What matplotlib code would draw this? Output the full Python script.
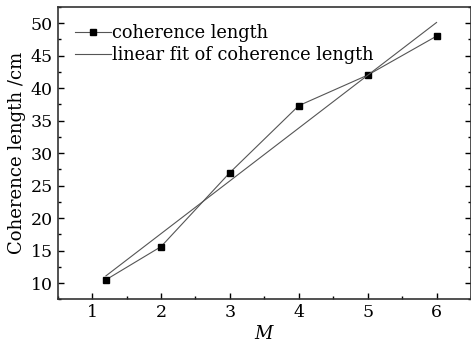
import matplotlib
matplotlib.use("Agg")
import matplotlib.pyplot as plt
from matplotlib.ticker import MultipleLocator

M = [1.2, 2, 3, 4, 5, 6]
coherence = [10.5, 15.6, 27.0, 37.3, 42.0, 48.0]
fit_x = [1.2, 6.0]
fit_y = [11.1, 50.1]

plt.rcParams['font.family'] = ['DejaVu Serif']
plt.rcParams['mathtext.fontset'] = 'dejavuserif'

fig = plt.figure(figsize=(4.71, 3.44), dpi=100)
ax = fig.add_axes([0.1225, 0.130, 0.8775, 0.850])

line_col = '#555555'
ax.plot(M, coherence, color=line_col, lw=0.8, marker='s', ms=4.5,
        mfc='black', mec='black', label='coherence length')
ax.plot(fit_x, fit_y, color=line_col, lw=0.8, label='linear fit of coherence length')

ax.set_xlim(0.5, 6.5)
ax.set_ylim(7.5, 52.5)
ax.xaxis.set_major_locator(MultipleLocator(1))
ax.xaxis.set_minor_locator(MultipleLocator(0.5))
ax.yaxis.set_major_locator(MultipleLocator(5))
ax.yaxis.set_minor_locator(MultipleLocator(2.5))
ax.tick_params(which='both', direction='in', top=False, right=True, labelsize=12.5)
ax.tick_params(which='major', length=4, width=1)
ax.tick_params(which='minor', length=2.5, width=1)
for s in ax.spines.values():
    s.set_linewidth(1.2)
    s.set_color('#333333')

ax.set_xlabel('$M$', fontsize=13, labelpad=3)
ax.set_ylabel('Coherence length /cm', fontsize=13, labelpad=3)

leg = ax.legend(loc='upper left', frameon=False, fontsize=12.8, handlelength=2.0,
                handletextpad=0.05, labelspacing=0.2, borderaxespad=0.0,
                bbox_to_anchor=(0.025, 0.965))

fig.savefig('out.png', dpi=100)
